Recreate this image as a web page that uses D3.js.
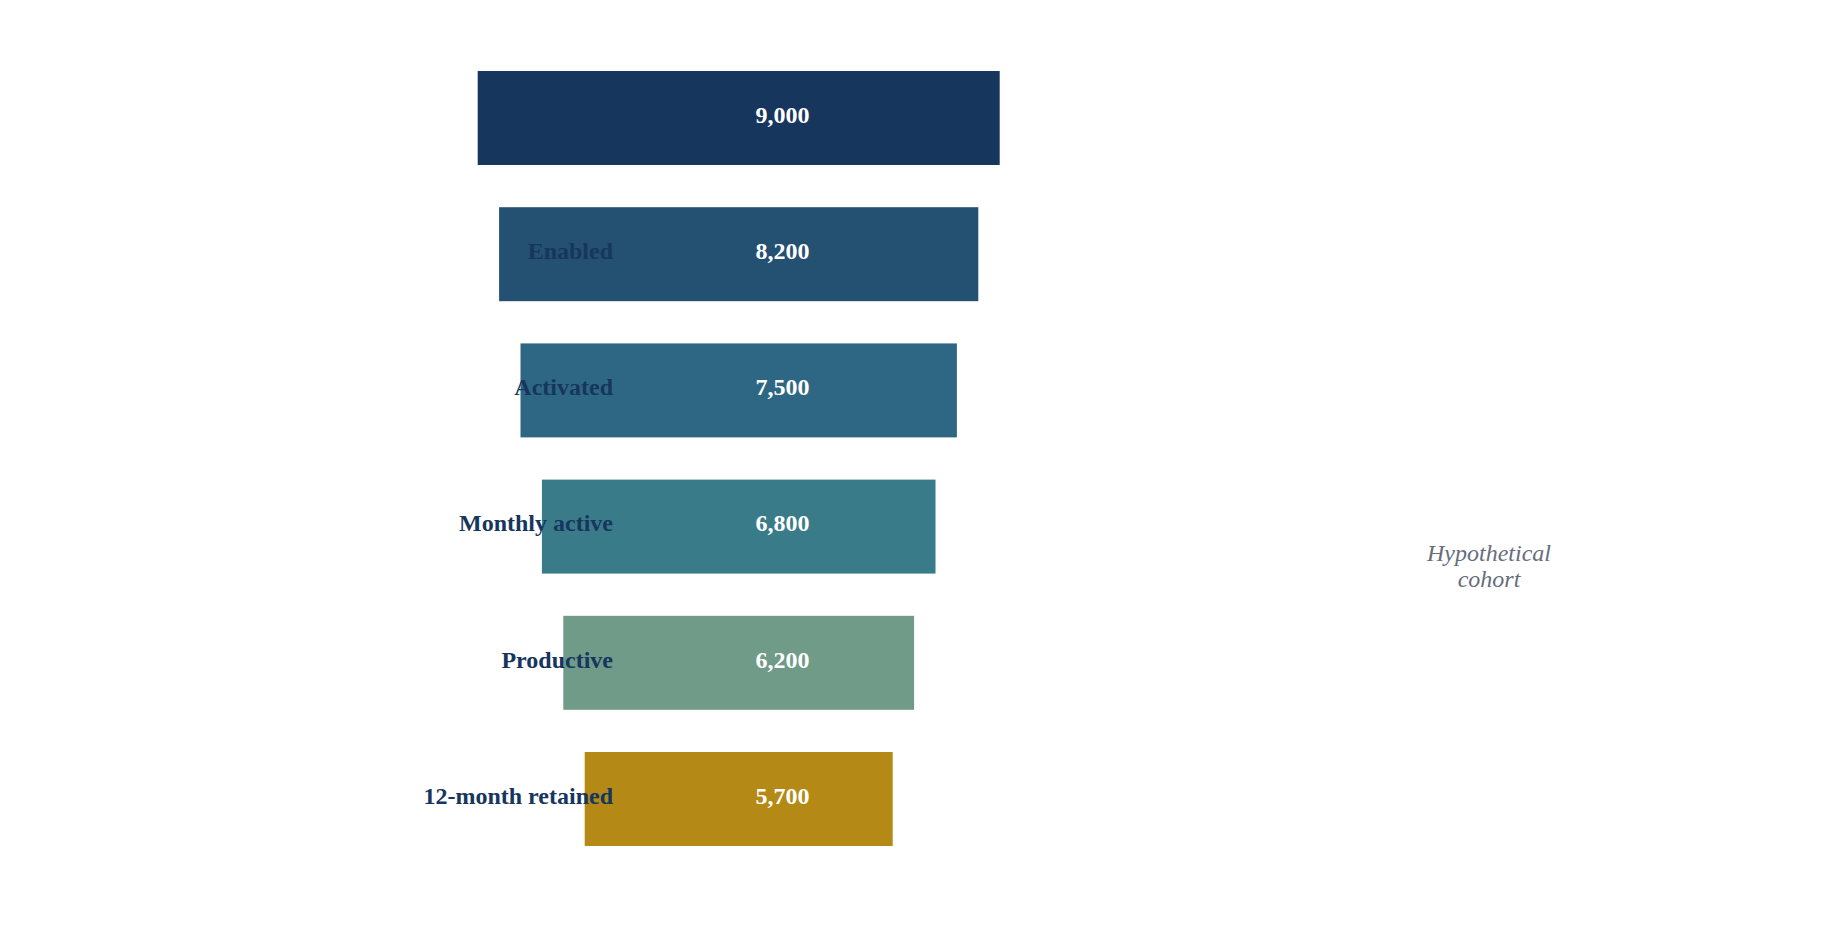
<!DOCTYPE html>
<html>
<head>
<meta charset="utf-8">
<script src="https://cdn.jsdelivr.net/npm/d3@7"></script>
<style>
  html, body { margin: 0; padding: 0; background: #ffffff; }
  svg { display: block; }
</style>
</head>
<body>
<div id="chart"></div>
<script>
// ---- data ----
const stages = ["Eligible", "Enabled", "Activated", "Monthly active", "Productive", "12-month retained"];
const values = [9000, 8200, 7500, 6800, 6200, 5700];
const barColors = ["#17365d", "#245071", "#2e6784", "#3a7b8a", "#6f9b88", "#b58916"];
const noteLines = ["Hypothetical", "cohort"];

// ---- layout ----
const W = 1834, H = 941;
const centerX = 738.7;
const labelRight = 613;
const valueX = 782.5;
const labelColor = "#17365d";
const fontFam = "'Liberation Serif', 'Times New Roman', serif";

const svg = d3.select("#chart").append("svg")
  .attr("width", W).attr("height", H)
  .style("background", "#ffffff");

const data = stages.map((s, i) => ({ stage: s, value: values[i], color: barColors[i], rank: i }));

const y = d3.scaleBand()
  .domain(stages)
  .range([49.9, 867.1])
  .paddingInner(0.31)
  .paddingOuter(0.155);

// funnel width by stage rank (even steps)
const w = d3.scaleLinear()
  .domain([0, stages.length - 1])
  .range([522, 308]);

const g = svg.append("g");

g.selectAll("rect.bar")
  .data(data)
  .join("rect")
  .attr("class", "bar")
  .attr("x", d => centerX - w(d.rank) / 2)
  .attr("width", d => w(d.rank))
  .attr("y", d => y(d.stage))
  .attr("height", y.bandwidth())
  .attr("fill", d => d.color);

g.selectAll("text.cat")
  .data(data)
  .join("text")
  .attr("class", "cat")
  .attr("x", labelRight)
  .attr("y", d => y(d.stage) + y.bandwidth() / 2)
  .attr("dy", "0.2em")
  .attr("text-anchor", "end")
  .attr("font-family", fontFam)
  .attr("font-weight", "bold")
  .attr("font-size", 24)
  .attr("fill", labelColor)
  .text(d => d.stage);

const fmt = d3.format(",");
g.selectAll("text.val")
  .data(data)
  .join("text")
  .attr("class", "val")
  .attr("x", valueX)
  .attr("y", d => y(d.stage) + y.bandwidth() / 2)
  .attr("dy", "0.2em")
  .attr("text-anchor", "middle")
  .attr("font-family", fontFam)
  .attr("font-weight", "bold")
  .attr("font-size", 24)
  .attr("fill", "#ffffff")
  .text(d => fmt(d.value));

const note = svg.append("text")
  .attr("x", 1489)
  .attr("y", 561)
  .attr("text-anchor", "middle")
  .attr("font-family", fontFam)
  .attr("font-style", "italic")
  .attr("font-size", 24)
  .attr("fill", "#676d7c");
note.selectAll("tspan")
  .data(noteLines)
  .join("tspan")
  .attr("x", 1489)
  .attr("dy", (d, i) => i === 0 ? 0 : 26)
  .text(d => d);
</script>
</body>
</html>
